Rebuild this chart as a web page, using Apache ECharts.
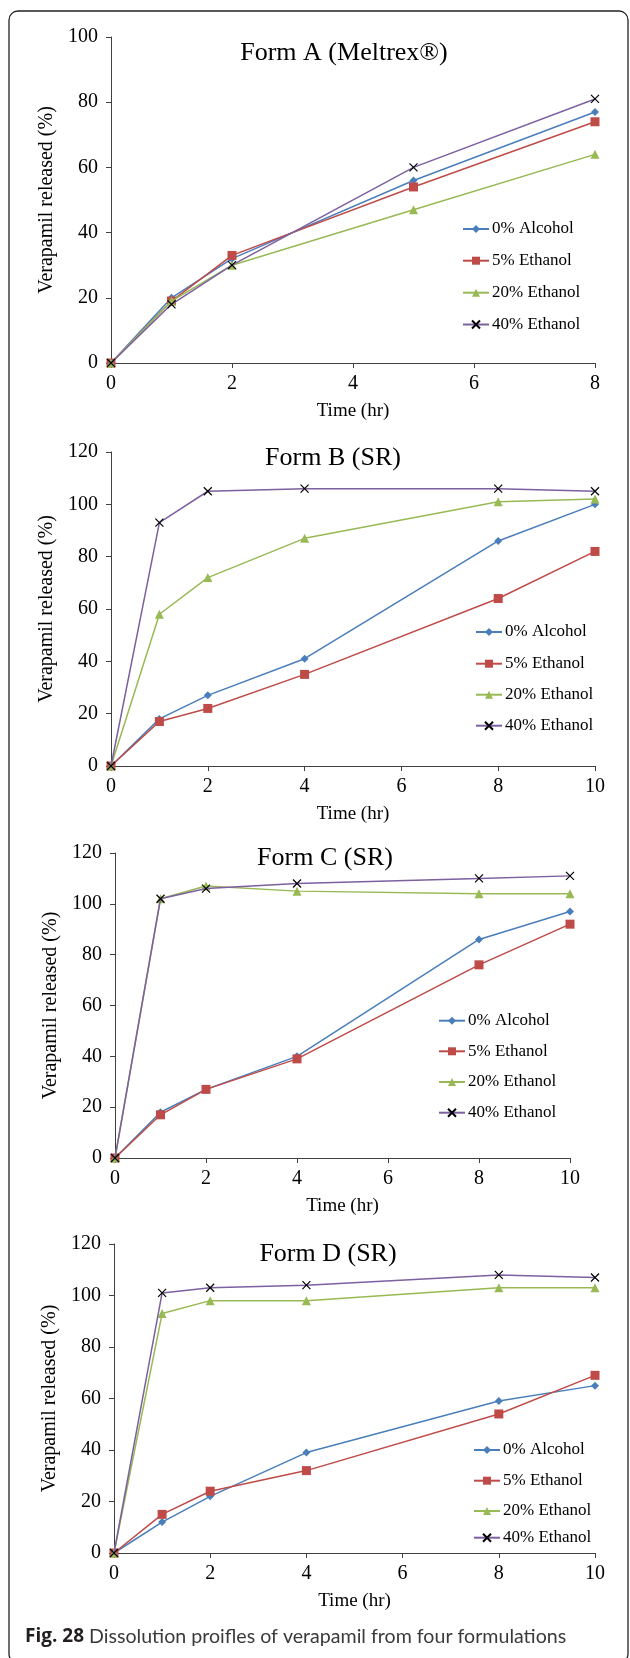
<!DOCTYPE html>
<html>
<head>
<meta charset="utf-8">
<script src="https://cdn.jsdelivr.net/npm/echarts@6/dist/echarts.min.js"></script>
<style>
  html, body { margin: 0; padding: 0; background: #fff; }
  #chart { width: 630px; height: 1658px; }
</style>
</head>
<body>
<div id="chart"></div>
<script>
// Dissolution profiles of verapamil (% released vs. time) for four formulations
const seriesNames = ['0% Alcohol', '5% Ethanol', '20% Ethanol', '40% Ethanol'];

// Form A (Meltrex®)
const timeA = [0, 1, 2, 5, 8];
const formA_alc0 = [0, 20, 32, 56, 77];
const formA_eth5 = [0, 19, 33, 54, 74];
const formA_eth20 = [0, 19, 30, 47, 64];
const formA_eth40 = [0, 18, 30, 60, 81];

// Form B (SR)
const timeB = [0, 1, 2, 4, 8, 10];
const formB_alc0 = [0, 18, 27, 41, 86, 100];
const formB_eth5 = [0, 17, 22, 35, 64, 82];
const formB_eth20 = [0, 58, 72, 87, 101, 102];
const formB_eth40 = [0, 93, 105, 106, 106, 105];

// Form C (SR)
const timeC = [0, 1, 2, 4, 8, 10];
const formC_alc0 = [0, 18, 27, 40, 86, 97];
const formC_eth5 = [0, 17, 27, 39, 76, 92];
const formC_eth20 = [0, 102, 107, 105, 104, 104];
const formC_eth40 = [0, 102, 106, 108, 110, 111];

// Form D (SR)
const timeD = [0, 1, 2, 4, 8, 10];
const formD_alc0 = [0, 12, 22, 39, 59, 65];
const formD_eth5 = [0, 15, 24, 32, 54, 69];
const formD_eth20 = [0, 93, 98, 98, 103, 103];
const formD_eth40 = [0, 101, 103, 104, 108, 107];

const panelTitles = ['Form A (Meltrex®)', 'Form B (SR)', 'Form C (SR)', 'Form D (SR)'];
const xTitle = 'Time (hr)';
const yTitle = 'Verapamil released (%)';
const captionBold = 'Fig. 28';
const captionText = ' Dissolution proifles of verapamil from four formulations';

const panels = [
  { t: timeA, s: [formA_alc0, formA_eth5, formA_eth20, formA_eth40], xMax: 8, yMax: 100 },
  { t: timeB, s: [formB_alc0, formB_eth5, formB_eth20, formB_eth40], xMax: 10, yMax: 120 },
  { t: timeC, s: [formC_alc0, formC_eth5, formC_eth20, formC_eth40], xMax: 10, yMax: 120 },
  { t: timeD, s: [formD_alc0, formD_eth5, formD_eth20, formD_eth40], xMax: 10, yMax: 120 }
];

// layout of each panel
const grids = [
  { left: 111, right: 35, top: 37, height: 326 },
  { left: 111, right: 35, top: 452, height: 314 },
  { left: 115, right: 60, top: 853, height: 305 },
  { left: 114, right: 35, top: 1244, height: 309 }
];
const titlePos = [
  { x: 344, y: 53 }, { x: 333, y: 458 }, { x: 325, y: 858 }, { x: 328, y: 1254 }
];
// legend: left edge of the key line and vertical centre of each row
const legendLeft = [462, 475, 438, 473];
const legendRows = [
  [229, 260.7, 292.7, 324.5],
  [632, 663.7, 694.7, 725.7],
  [1020.7, 1051.3, 1082, 1112.7],
  [1450, 1480.7, 1511, 1537.7]
];
const yNameGap = [50, 50, 54, 53];

const FONT = 'Liberation Serif';
const lineColors = ['#4A7EBB', '#BE4B48', '#98B954', '#7D60A0'];
const symbols = ['diamond', 'rect', 'triangle', 'path://M0,0L10,10M10,0L0,10'];
const symbolSizes = [8, 9, 9, 8];

const chart = echarts.init(document.getElementById('chart'), null, { renderer: 'canvas' });

const legends = [];
legendRows.forEach((rows, gi) => {
  rows.forEach((cy, si) => {
    legends.push({
      orient: 'vertical',
      left: legendLeft[gi], top: cy - 9,
      itemWidth: 26, itemHeight: 10, itemGap: 0,
      textStyle: { fontFamily: FONT, fontSize: 17, color: '#000', padding: [0, 0, 0, -2], lineHeight: 18 },
      padding: 0,
      selectedMode: false,
      data: [{ name: seriesNames[si] }]
    });
  });
});

const option = {
  animation: false,
  backgroundColor: '#fff',
  textStyle: { fontFamily: FONT },
  grid: grids,
  xAxis: panels.map((p, i) => ({
    type: 'value', gridIndex: i, min: 0, max: p.xMax, interval: 2,
    name: xTitle, nameLocation: 'middle', nameGap: 39,
    nameTextStyle: { fontFamily: FONT, fontSize: 19, color: '#000' },
    axisLine: { show: true, onZero: false, lineStyle: { color: '#404040', width: 1 } },
    axisTick: { show: true, length: 5, inside: false, lineStyle: { color: '#404040' } },
    axisLabel: { fontFamily: FONT, fontSize: 20, color: '#000', margin: 11 },
    splitLine: { show: false }
  })),
  yAxis: panels.map((p, i) => ({
    type: 'value', gridIndex: i, min: 0, max: p.yMax, interval: 20,
    name: yTitle, nameLocation: 'middle', nameGap: yNameGap[i], nameRotate: 90,
    nameTextStyle: { fontFamily: FONT, fontSize: 20, color: '#000' },
    axisLine: { show: true, lineStyle: { color: '#404040', width: 1 } },
    axisTick: { show: true, length: 5, inside: false, lineStyle: { color: '#404040' } },
    axisLabel: { fontFamily: FONT, fontSize: 20, color: '#000', margin: 13 },
    splitLine: { show: false }
  })),
  legend: legends,
  series: [],
  graphic: []
};

panels.forEach((p, gi) => {
  p.s.forEach((vals, si) => {
    const isCross = si === 3;
    option.series.push({
      name: seriesNames[si],
      type: 'line',
      xAxisIndex: gi, yAxisIndex: gi,
      data: p.t.map((t, k) => [t, vals[k]]),
      symbol: symbols[si],
      symbolSize: symbolSizes[si],
      showAllSymbol: true,
      lineStyle: { color: lineColors[si], width: 1.5 },
      itemStyle: isCross
        ? { color: 'rgba(0,0,0,0)', borderColor: '#000', borderWidth: 1.2 }
        : { color: lineColors[si], borderWidth: 0 },
      emphasis: { disabled: true },
      z: 2 + si
    });
  });
});

// panel titles
titlePos.forEach((pos, i) => {
  option.graphic.push({
    type: 'text', x: pos.x, y: pos.y, z: 10,
    style: {
      text: panelTitles[i], fontFamily: FONT, fontSize: 26, fill: '#000',
      align: 'center', verticalAlign: 'middle'
    }
  });
});

// frame around the figure
option.graphic.push({
  type: 'rect', z: 0,
  shape: { x: 9, y: 11, width: 619, height: 1652, r: 9 },
  style: { fill: 'none', stroke: '#222', lineWidth: 1.3 }
});

// caption
option.graphic.push({
  type: 'text', x: 25, y: 1637, z: 10,
  style: {
    text: '{b|' + captionBold + '}{r|' + captionText + '}',
    verticalAlign: 'middle',
    rich: {
      b: { fontFamily: 'Open Sans', fontWeight: 'bold', fontSize: 19, fill: '#231F20' },
      r: { fontFamily: 'Lato', fontSize: 19.6, fill: '#3A3A3A' }
    }
  }
});

chart.setOption(option);
</script>
</body>
</html>
